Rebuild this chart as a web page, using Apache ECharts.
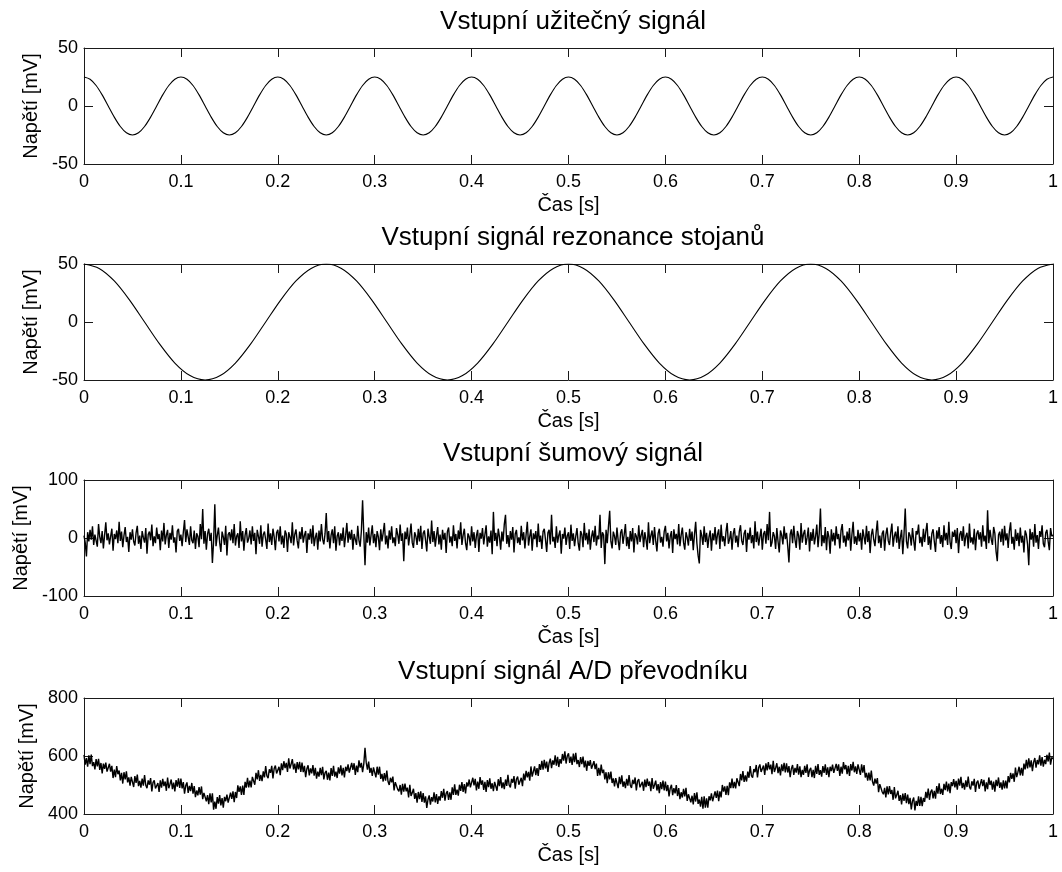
<!DOCTYPE html>
<html>
<head>
<meta charset="utf-8">
<title>Vstupní signály</title>
<script src="https://cdn.jsdelivr.net/npm/echarts@6/dist/echarts.min.js"></script>
<style>
  html, body { margin: 0; padding: 0; background: #fff; }
  #chart { width: 1062px; height: 872px; }
</style>
</head>
<body>
<div id="chart"></div>
<script>
// nadpisy a popisky os
var titles = ["Vstupní užitečný signál", "Vstupní signál rezonance stojanů", "Vstupní šumový signál", "Vstupní signál A/D převodníku"];
var xName = "Čas [s]";
var yName = "Napětí [mV]";
// rozsahy os y (min, max, krok)
var yMin = [-50, -50, -100, 400];
var yMax = [50, 50, 100, 800];
var yStep = [50, 50, 100, 200];

// užitečný signál 10 Hz, vzorky po 0.00625 s
var sig1Step = 0.00625;
var sig1 = [
  25, 23.1, 17.7, 9.6, 0, -9.6, -17.7, -23.1, -25, -23.1, -17.7, -9.6, 0, 9.6, 17.7, 23.1,
  25, 23.1, 17.7, 9.6, 0, -9.6, -17.7, -23.1, -25, -23.1, -17.7, -9.6, 0, 9.6, 17.7, 23.1,
  25, 23.1, 17.7, 9.6, 0, -9.6, -17.7, -23.1, -25, -23.1, -17.7, -9.6, 0, 9.6, 17.7, 23.1,
  25, 23.1, 17.7, 9.6, 0, -9.6, -17.7, -23.1, -25, -23.1, -17.7, -9.6, 0, 9.6, 17.7, 23.1,
  25, 23.1, 17.7, 9.6, 0, -9.6, -17.7, -23.1, -25, -23.1, -17.7, -9.6, 0, 9.6, 17.7, 23.1,
  25, 23.1, 17.7, 9.6, 0, -9.6, -17.7, -23.1, -25, -23.1, -17.7, -9.6, 0, 9.6, 17.7, 23.1,
  25, 23.1, 17.7, 9.6, 0, -9.6, -17.7, -23.1, -25, -23.1, -17.7, -9.6, 0, 9.6, 17.7, 23.1,
  25, 23.1, 17.7, 9.6, 0, -9.6, -17.7, -23.1, -25, -23.1, -17.7, -9.6, 0, 9.6, 17.7, 23.1,
  25, 23.1, 17.7, 9.6, 0, -9.6, -17.7, -23.1, -25, -23.1, -17.7, -9.6, 0, 9.6, 17.7, 23.1,
  25, 23.1, 17.7, 9.6, 0, -9.6, -17.7, -23.1, -25, -23.1, -17.7, -9.6, 0, 9.6, 17.7, 23.1,
  25
];

// rezonance stojanů 4 Hz, vzorky po 1/64 s
var sig2Step = 0.015625;
var sig2 = [
  50, 46.2, 35.4, 19.1, 0, -19.1, -35.4, -46.2, -50, -46.2, -35.4, -19.1, 0, 19.1, 35.4, 46.2,
  50, 46.2, 35.4, 19.1, 0, -19.1, -35.4, -46.2, -50, -46.2, -35.4, -19.1, 0, 19.1, 35.4, 46.2,
  50, 46.2, 35.4, 19.1, 0, -19.1, -35.4, -46.2, -50, -46.2, -35.4, -19.1, 0, 19.1, 35.4, 46.2,
  50, 46.2, 35.4, 19.1, 0, -19.1, -35.4, -46.2, -50, -46.2, -35.4, -19.1, 0, 19.1, 35.4, 46.2,
  50
];

// šum, vzorky po 0.00125 s
var noiseStep = 0.00125;
var noise = [
  4, -8, -32, 10, -6, 14, -3, 20, -12, 6, 9, -15, 24, 2, -9, 12, -18, 5, 27, -4,
  8, -11, 3, 16, -22, 7, -2, 13, -9, 28, -5, 11, -16, 4, 19, -7, 2, -24, 10, -3,
  15, -6, -13, 9, 21, -10, 4, -19, 12, 1, -8, 17, -27, 6, 11, -4, 23, -14, 3, -9,
  18, -2, 7, -21, 13, -6, 26, -11, 5, 14, -17, 9, -3, 22, -8, 1, -25, 12, 16, -5,
  6, -14, 10, 31, -7, 15, 2, -12, 20, -4, -9, 13, -19, 8, 3, -16, 24, -2, 50, -10,
  12, -20, 7, 16, -5, 9, -43, -6, 58, -14, 4, 18, -8, -24, 11, 2, -12, 21, -30, 6,
  10, -4, 15, -9, 24, -13, 3, 8, -17, 29, -6, 12, -22, 5, 17, -8, -1, 13, -11, 20,
  -5, 9, -28, 14, 3, -10, 22, -15, 6, 11, -3, -19, 25, -7, 8, -12, 16, 2, -21, 9,
  14, -6, 20, -11, 4, -17, 13, 7, -24, 10, 2, -9, 27, -13, 6, 15, -5, -18, 11, -2,
  19, -8, 5, 12, -26, 8, -3, 16, -10, 22, -14, 1, 9, -20, 13, -6, 24, -2, -11, 7,
  43, -7, 12, -18, 5, 15, -9, 20, -22, 3, 10, -13, 8, -5, 18, -16, 4, 26, -8, 11,
  -3, 14, -20, 7, 9, -12, 21, -4, -15, 12, 65, 6, -47, 10, -8, 18, -13, 5, 22, -9,
  7, -16, 12, 2, -21, 15, -6, 9, 26, -11, 4, -18, 13, -3, 20, -9, 1, -14, 17, 6,
  -10, 23, -5, 8, -40, 11, -2, 18, -13, 5, 25, -8, -17, 10, 3, -12, 16, -6, 21, -19,
  8, 13, -4, -23, 16, 2, -10, 30, -7, 12, -15, 4, 19, -11, 6, -20, 14, -3, 9, -26,
  11, 18, -8, 3, -14, 22, -5, 7, -18, 13, -2, 27, -12, 5, 16, -9, -21, 8, 2, -13,
  20, -6, 10, -17, 4, 14, -24, 9, -1, 17, -11, 6, 22, -15, 3, -8, 13, -28, 45, -5,
  9, -14, 16, 2, -20, 11, -6, 24, 40, -10, 5, -16, 12, -3, 19, -25, 7, 14, -9, 1,
  -12, 21, -4, 10, -18, 6, 28, -13, 3, 15, -22, 8, -2, 12, -16, 25, -7, 4, -19, 11,
  16, -3, -24, 9, 14, -11, 40, -6, 2, -17, 20, -8, 5, 13, -27, 7, -1, 18, -12, 4,
  10, -19, 23, -5, 8, -14, 3, 17, -9, -22, 12, 6, -16, 26, -4, 9, -11, 15, -20, 2,
  13, -7, 21, -13, 4, -2, 40, -17, 10, 5, -45, 14, -9, 20, 47, -6, -18, 11, 3, -12,
  18, -4, -21, 9, 15, -10, 6, 24, -14, 2, -19, 12, -6, 17, -25, 8, 3, -11, 22, -7,
  5, 14, -16, 10, -3, -20, 27, -9, 4, 13, -12, 19, -5, -23, 8, 16, -8, 2, -15, 11,
  21, -6, 9, -18, 3, 12, -26, 15, -2, 7, -11, 24, -14, 5, 18, -8, -20, 10, 1, -13,
  16, -5, 11, -21, 6, 28, -9, -30, -44, 14, 4, -12, 20, -7, 9, -17, 2, 13, -22, 8,
  -4, 19, -11, 6, 15, -19, 23, -6, 3, -14, 10, 26, -10, -2, 12, -20, 7, 17, -8, 4,
  -16, 11, 22, -5, -12, 8, 14, -24, 9, -3, 18, -9, 5, -18, 29, -7, 11, -13, 2, 16,
  -20, 7, 12, -10, 24, -4, 45, -15, -8, 10, 3, -19, 17, -6, -25, 13, 5, -11, 20, -2,
  9, -14, -42, 6, 15, -9, 21, -3, -17, 12, 4, -20, 26, -8, 7, 14, -12, 1, 18, -23,
  10, -5, 16, -11, 3, 23, -16, 8, 51, -14, 5, -9, 19, -21, 12, 2, -27, 15, -6, 9,
  -13, 20, -2, 7, -18, 13, 24, -8, 4, -15, 11, -4, 17, -22, 6, 28, -10, 3, -12, 14,
  -6, 9, -20, 15, 2, -11, 21, -7, 12, -26, 5, 16, -3, -14, 10, 30, -9, 4, -17, 8,
  13, -22, 6, 18, -5, -12, 9, 25, -15, 3, 11, -8, 20, -19, 1, 14, -28, 7, 51, -6,
  -18, 10, 4, -13, 17, -4, -22, 12, 6, 23, -9, 2, -15, 16, -7, 11, 26, -12, 3, -20,
  8, 15, -6, -24, 13, -1, 19, -10, 5, -16, 22, -4, 9, -12, 28, -7, -19, 11, 2, 14,
  -9, 17, -26, 6, 12, -5, 20, -14, 3, 9, -18, 25, -8, 1, -11, 16, -21, 7, 13, -3,
  10, -15, 22, -6, 4, -19, 48, -9, 14, -2, -12, 19, 8, -23, -40, 5, 11, -7, 16, -13,
  21, -4, 8, -17, 12, 27, -10, 2, -20, 15, -5, 9, -14, 18, -8, 4, -25, 13, 6, -11,
  -47, 16, -3, 10, -15, 24, -8, 5, -19, 12, 2, 22, -10, -16, 9, 14, -6, -21, 17, 3,
  5
];

// vstup A/D převodníku, vzorky po 0.00125 s
var adStep = 0.00125;
var adInput = [
  604, 570, 593, 563, 602, 572, 605, 565, 579, 554, 589, 564, 590, 552, 576, 540, 574, 556, 577, 546,
  543, 573, 546, 566, 524, 553, 527, 565, 537, 550, 516, 542, 505, 544, 519, 547, 509, 526, 498, 528,
  524, 493, 531, 507, 536, 496, 514, 491, 522, 498, 534, 499, 489, 516, 501, 524, 478, 509, 516, 488,
  483, 507, 476, 516, 491, 521, 496, 512, 480, 526, 489, 503, 519, 486, 508, 478, 517, 494, 523, 490,
  522, 488, 510, 470, 498, 509, 473, 497, 479, 507, 470, 496, 458, 481, 464, 493, 467, 495, 451, 473,
  479, 444, 465, 434, 471, 440, 471, 415, 443, 418, 458, 436, 465, 430, 455, 422, 459, 444, 467, 439,
  438, 474, 452, 478, 441, 476, 455, 499, 476, 495, 466, 498, 466, 511, 491, 525, 492, 515, 492, 528,
  529, 501, 542, 519, 551, 514, 535, 513, 547, 526, 565, 531, 524, 554, 542, 566, 523, 557, 567, 540,
  538, 563, 534, 575, 551, 582, 558, 576, 545, 592, 557, 572, 589, 554, 574, 542, 579, 554, 580, 545,
  577, 544, 566, 527, 556, 568, 533, 557, 540, 569, 532, 559, 522, 546, 529, 559, 534, 563, 519, 542,
  549, 518, 543, 516, 558, 531, 566, 529, 546, 524, 561, 539, 568, 533, 559, 526, 563, 548, 571, 543,
  543, 576, 552, 575, 535, 567, 544, 585, 560, 576, 544, 573, 628, 578, 553, 581, 542, 559, 531, 561,
  559, 526, 563, 536, 563, 521, 538, 512, 541, 515, 550, 512, 500, 525, 509, 529, 481, 510, 516, 485,
  478, 500, 467, 504, 477, 505, 478, 491, 457, 501, 462, 473, 487, 452, 472, 439, 476, 451, 478, 442,
  472, 439, 461, 421, 450, 464, 432, 458, 443, 475, 440, 469, 435, 461, 446, 479, 456, 487, 446, 471,
  479, 449, 475, 449, 492, 466, 502, 466, 484, 463, 501, 480, 510, 476, 503, 471, 509, 495, 519, 492,
  493, 525, 499, 521, 481, 512, 487, 527, 501, 516, 483, 511, 476, 517, 493, 523, 487, 506, 479, 511,
  509, 480, 520, 496, 527, 489, 509, 486, 519, 497, 535, 500, 492, 521, 508, 531, 487, 520, 529, 501,
  498, 525, 496, 539, 516, 549, 526, 545, 515, 564, 529, 546, 564, 534, 558, 531, 572, 552, 583, 553,
  587, 557, 581, 545, 576, 591, 558, 585, 570, 602, 567, 597, 562, 589, 574, 607, 584, 616, 574, 600,
  609, 576, 598, 569, 608, 579, 611, 572, 586, 562, 596, 572, 598, 561, 584, 549, 583, 566, 586, 556,
  553, 582, 555, 574, 531, 559, 533, 570, 541, 553, 519, 544, 506, 544, 519, 546, 507, 523, 495, 524,
  519, 489, 528, 503, 533, 494, 512, 489, 521, 498, 534, 499, 490, 518, 503, 526, 481, 513, 520, 492,
  488, 511, 480, 519, 493, 522, 497, 512, 479, 524, 487, 500, 515, 481, 503, 472, 510, 486, 515, 481,
  512, 479, 500, 461, 489, 501, 465, 489, 471, 500, 462, 489, 451, 475, 457, 487, 461, 490, 445, 468,
  474, 440, 463, 433, 472, 443, 475, 435, 450, 425, 459, 418, 461, 422, 454, 422, 461, 447, 471, 444,
  443, 478, 456, 481, 444, 478, 457, 500, 477, 495, 466, 497, 465, 509, 489, 522, 489, 511, 488, 523,
  524, 496, 538, 516, 548, 511, 533, 512, 546, 525, 565, 532, 525, 555, 544, 569, 526, 560, 571, 545,
  543, 567, 535, 575, 550, 579, 554, 570, 537, 583, 545, 559, 575, 541, 563, 533, 571, 548, 576, 543,
  575, 543, 565, 527, 556, 569, 535, 559, 543, 572, 536, 564, 527, 552, 535, 566, 542, 571, 528, 551,
  559, 527, 552, 524, 566, 538, 572, 535, 551, 529, 565, 542, 571, 535, 561, 527, 563, 548, 570, 542,
  541, 573, 549, 571, 531, 563, 539, 579, 554, 569, 537, 566, 531, 572, 550, 580, 544, 564, 538, 571,
  569, 535, 571, 543, 569, 526, 542, 515, 543, 516, 550, 511, 498, 522, 505, 524, 475, 503, 508, 476,
  468, 490, 457, 495, 468, 496, 469, 483, 449, 493, 454, 466, 480, 445, 465, 433, 470, 445, 472, 437,
  467, 434, 456, 416, 445, 457, 412, 445, 428, 461, 428, 459, 427, 455, 442, 476, 455, 488, 449, 476,
  484, 454, 480, 453, 496, 470, 506, 469, 487, 466, 504, 482, 512, 478, 505, 472, 510, 496, 520, 492,
  514, 484, 522, 498, 528, 489, 507, 484, 516, 493, 529, 494, 485, 513, 498, 521, 476, 508, 515, 487,
  488, 520, 496, 518, 478, 509, 486, 526, 500, 515, 484, 512, 477, 518, 496, 526, 490, 509, 484, 516,
  488, 515, 488, 531, 509, 542, 521, 540, 511, 560, 527, 544, 563, 533, 559, 532, 574, 554, 587, 557,
  592, 561, 585, 548, 579, 593, 560, 586, 571, 602, 567, 596, 563, 587, 572, 604, 581, 612, 570, 595,
  590
];

var signals = [sig1, sig2, noise, adInput];
var steps = [sig1Step, sig2Step, noiseStep, adStep];

// umístění grafů
var gridTops = [48, 264, 480, 698];
var gridHeight = 116;
var plotLeft = 84;
var plotRight = 9;
var font = "'Liberation Sans', Arial, sans-serif";
var ink = "#1a1a1a";

// dvojice [čas, hodnota] pro hodnotovou osu x
function toPairs(values, step) {
  var out = [];
  for (var i = 0; i < values.length; i++) {
    out.push([+(i * step).toFixed(5), values[i]]);
  }
  return out;
}

var chart = echarts.init(document.getElementById("chart"), null, { renderer: "canvas" });

var title = [], grid = [], xAxis = [], yAxis = [], series = [];
for (var k = 0; k < 4; k++) {
  title.push({
    text: titles[k],
    left: 568,
    top: gridTops[k] - 44,
    textAlign: "center",
    textStyle: { fontFamily: font, fontSize: 26, fontWeight: "normal", color: "#000" }
  });
  grid.push({ left: plotLeft, right: plotRight, top: gridTops[k], height: gridHeight });

  var lineStyle = { color: ink, width: 1 };
  // spodní osa x s popisky
  xAxis.push({
    gridIndex: k, type: "value", min: 0, max: 1, interval: 0.1,
    name: xName, nameLocation: "middle", nameGap: 31,
    nameTextStyle: { fontFamily: font, fontSize: 20, color: "#000" },
    axisLine: { onZero: false, lineStyle: lineStyle },
    axisTick: { inside: true, length: 9, lineStyle: lineStyle },
    axisLabel: { fontFamily: font, fontSize: 18, color: "#000", margin: 9 },
    splitLine: { show: false }
  });
  // horní okraj rámu
  xAxis.push({
    gridIndex: k, type: "value", position: "top", min: 0, max: 1, interval: 0.1,
    axisLine: { onZero: false, lineStyle: lineStyle },
    axisTick: { inside: true, length: 9, lineStyle: lineStyle },
    axisLabel: { show: false },
    splitLine: { show: false }
  });
  // levá osa y
  yAxis.push({
    gridIndex: k, type: "value", min: yMin[k], max: yMax[k], interval: yStep[k],
    name: yName, nameLocation: "middle", nameGap: 42,
    nameTextStyle: { fontFamily: font, fontSize: 20, color: "#000" },
    axisLine: { show: true, onZero: false, lineStyle: lineStyle },
    axisTick: { show: true, inside: true, length: 9, lineStyle: lineStyle },
    axisLabel: { fontFamily: font, fontSize: 18, color: "#000", margin: 6 },
    splitLine: { show: false }
  });
  // pravý okraj rámu
  yAxis.push({
    gridIndex: k, type: "value", position: "right", min: yMin[k], max: yMax[k], interval: yStep[k],
    axisLine: { show: true, onZero: false, lineStyle: lineStyle },
    axisTick: { show: true, inside: true, length: 9, lineStyle: lineStyle },
    axisLabel: { show: false },
    splitLine: { show: false }
  });

  series.push({
    type: "line",
    xAxisIndex: 2 * k,
    yAxisIndex: 2 * k,
    data: toPairs(signals[k], steps[k]),
    showSymbol: false,
    smooth: k < 2 ? 0.3 : false,
    lineStyle: { color: "#000", width: k < 2 ? 1.1 : 1.4 },
    silent: true
  });
}

chart.setOption({
  animation: false,
  backgroundColor: "#fff",
  title: title,
  grid: grid,
  xAxis: xAxis,
  yAxis: yAxis,
  series: series
});
</script>
</body>
</html>
